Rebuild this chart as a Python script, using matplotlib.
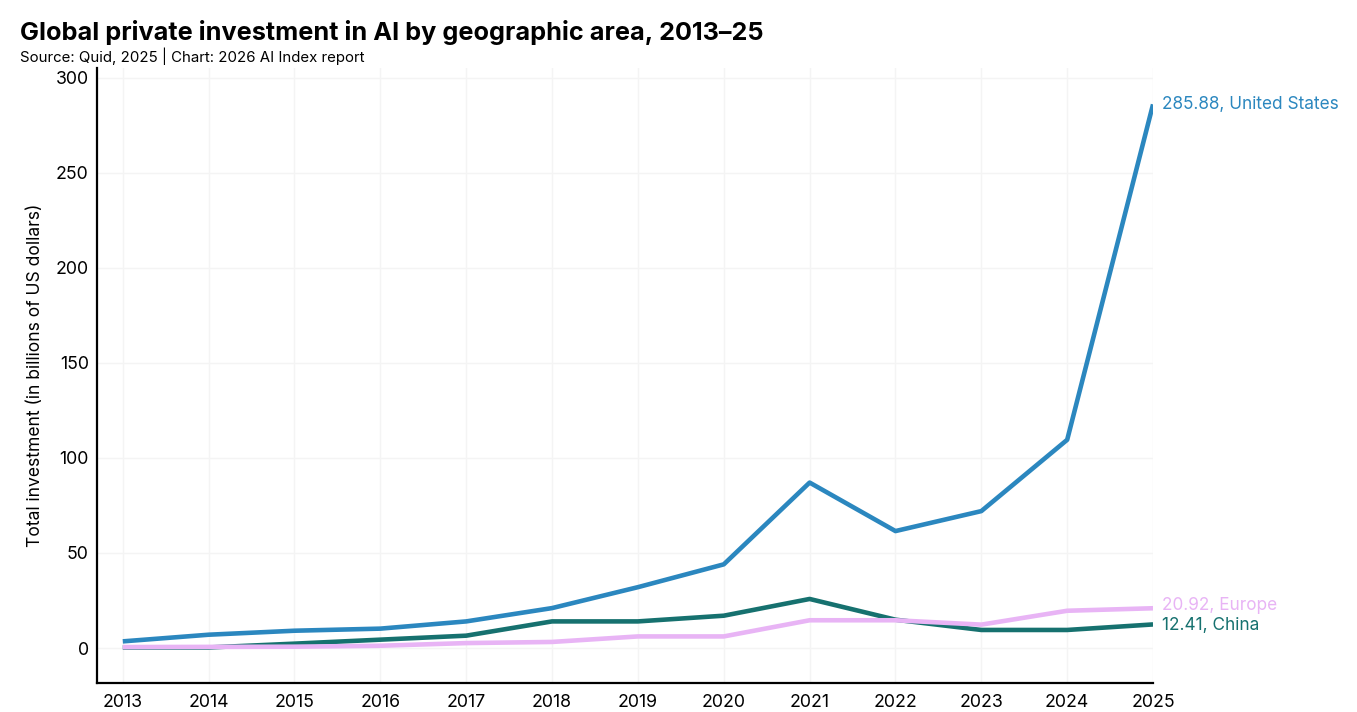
import matplotlib.pyplot as plt

plt.rcParams['font.family'] = ['Inter', 'DejaVu Sans']

years = list(range(2013, 2026))
us = [3.5, 7.0, 9.1, 10.2, 14.0, 21.0, 32.0, 44.0, 87.0, 61.5, 72.0, 109.5, 285.88]
china = [0.3, 0.3, 2.3, 4.4, 6.5, 14.0, 14.0, 17.0, 25.8, 14.9, 9.5, 9.5, 12.41]
europe = [0.5, 0.6, 0.7, 1.2, 2.6, 3.2, 6.1, 6.1, 14.6, 14.6, 12.3, 19.6, 20.92]

c_us = '#2b87bf'
c_china = '#16716f'
c_europe = '#e8b4f5'

fig = plt.figure(figsize=(13.57, 7.12), dpi=100)
ax = fig.add_axes([0.0715, 0.0407, 0.7782, 0.8638])

ax.plot(years, china, color=c_china, lw=3.3, solid_capstyle='butt', zorder=3)
ax.plot(years, europe, color=c_europe, lw=3.3, solid_capstyle='butt', zorder=4)
ax.plot(years, us, color=c_us, lw=3.3, solid_capstyle='butt', zorder=5)

ax.set_xlim(2012.7, 2025)
ax.set_ylim(-18.4, 305)
ax.set_xticks(years)
ax.set_yticks(range(0, 301, 50))
ax.tick_params(length=0, labelsize=12.8, pad=6)
ax.tick_params(axis='x', pad=8)
ax.grid(True, color='#f4f4f4', lw=1)
ax.set_axisbelow(True)
for s in ['top', 'right']:
    ax.spines[s].set_visible(False)
for s in ['left', 'bottom']:
    ax.spines[s].set_linewidth(1.6)
    ax.spines[s].set_color('black')
ax.set_ylabel('Total investment (in billions of US dollars)', fontsize=12.6, labelpad=8)

ax.text(2025.1, us[-1], f'{us[-1]:.2f}, United States', color=c_us, fontsize=12.4,
        va='center', ha='left', clip_on=False)
ax.text(2025.1, europe[-1] + 1.3, f'{europe[-1]:.2f}, Europe', color=c_europe, fontsize=12.4,
        va='center', ha='left', clip_on=False)
ax.text(2025.1, china[-1] - 0.8, f'{china[-1]:.2f}, China', color=c_china, fontsize=12.4,
        va='center', ha='left', clip_on=False)

fig.text(0.0147, 0.955, 'Global private investment in AI by geographic area, 2013\u201325',
         fontsize=18.2, fontweight='bold', va='center', ha='left')
fig.text(0.0147, 0.921, 'Source: Quid, 2025 | Chart: 2026 AI Index report',
         fontsize=10.8, va='center', ha='left')

fig.savefig('out.png', dpi=100)
